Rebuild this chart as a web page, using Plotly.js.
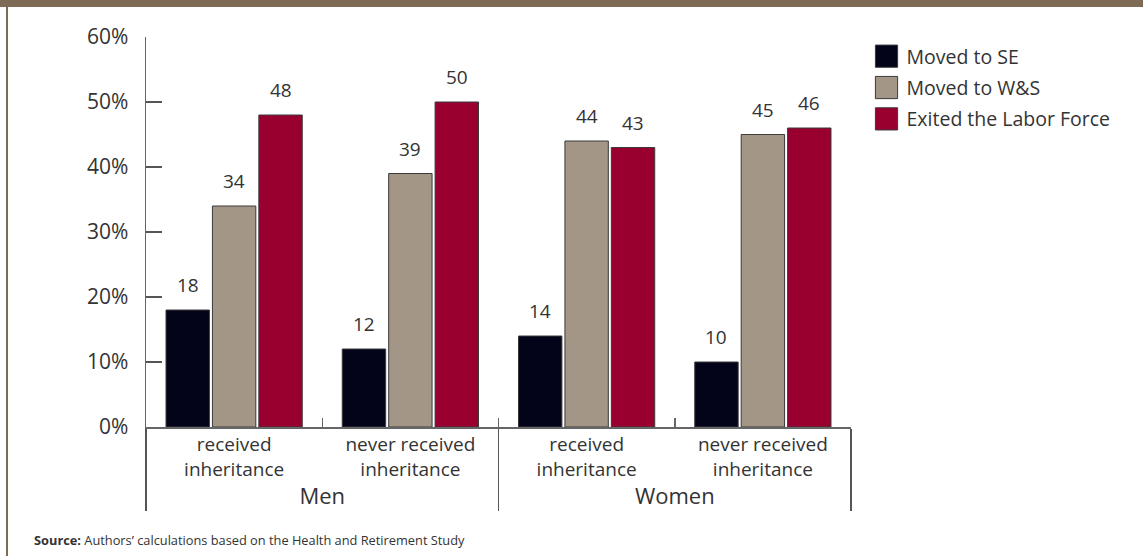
<!DOCTYPE html>
<html>
<head>
<meta charset="utf-8">
<script src="https://cdn.plot.ly/plotly-3.0.1.min.js"></script>
<style>
  html, body { margin: 0; padding: 0; background: #fff; }
  #wrap { position: relative; width: 1143px; height: 556px; overflow: hidden; }
  #chart { width: 1143px; height: 556px; }
  #topband { position: absolute; left: 0; top: 0; width: 1143px; height: 7px; background: #7e6b55; }
  #leftline { position: absolute; left: 6px; top: 0; width: 2px; height: 556px; background: #7e6b55; }
  .legend .legendpoints path {
    transform: translate(20px, 0px) scale(1.85);
    vector-effect: non-scaling-stroke;
  }
</style>
</head>
<body>
<div id="wrap">
  <div id="chart"></div>
  <div id="topband"></div>
  <div id="leftline"></div>
</div>
<script>
// ---- data ----
var groups = ["Men", "Men", "Women", "Women"];
var subgroups = ["received<br>inheritance", "never received<br>inheritance", "received<br>inheritance", "never received<br>inheritance"];
var seriesNames = ["Moved to SE", "Moved to W&S", "Exited the Labor Force"];
var movedSE = [18, 12, 14, 10];
var movedWS = [34, 39, 44, 45];
var exitedLF = [48, 50, 43, 46];
var yTickVals = [0, 10, 20, 30, 40, 50, 60];
var yTickText = ["0%", "10%", "20%", "30%", "40%", "50%", "60%"];
var sourceText = "<b>Source:</b> Authors’ calculations based on the Health and Retirement Study";

// ---- styles ----
var colors = ["#03041a", "#a39686", "#990030"];
var FONT = "'Open Sans', Lato, sans-serif";
var TXT = "#333333";
var BARGAP = 0.21;
var BARGROUPGAP = 0.065;

var groupLabels = groups.map(function (g) {
  return "<span style='font-size:22px'>" + g + "</span>";
});

var seriesValues = [movedSE, movedWS, exitedLF];
var traces = seriesValues.map(function (vals, j) {
  return {
    type: "bar",
    name: seriesNames[j],
    x: [groupLabels, subgroups],
    y: vals,
    legendgroup: "g" + j,
    marker: { color: colors[j], line: { color: "#3a3a3a", width: 1 } },
    hoverinfo: "y+name"
  };
});

// value labels as annotations positioned via the category axis
var slot = (1 - BARGAP) / seriesValues.length;
var annotations = [];
seriesValues.forEach(function (vals, j) {
  vals.forEach(function (v, i) {
    annotations.push({
      x: i + (j - (seriesValues.length - 1) / 2) * slot,
      y: v,
      xref: "x", yref: "y",
      text: String(v),
      showarrow: false,
      yanchor: "middle",
      yshift: 25,
      font: { family: FONT, size: 19, color: TXT }
    });
  });
});
annotations.push({
  xref: "paper", yref: "paper",
  x: -0.162, y: -0.29,
  xanchor: "left", yanchor: "middle",
  text: sourceText, showarrow: false,
  font: { family: FONT, size: 12.8, color: TXT }
});

var layout = {
  width: 1143, height: 556,
  margin: { l: 146, r: 292, t: 37, b: 129 },
  paper_bgcolor: "#ffffff",
  plot_bgcolor: "#ffffff",
  barmode: "group",
  bargap: BARGAP,
  bargroupgap: BARGROUPGAP,
  font: { family: FONT, color: TXT },
  xaxis: {
    type: "multicategory",
    showline: true, linecolor: "#666666", linewidth: 1.5,
    ticks: "inside", ticklen: 9, tickcolor: "#666666", tickwidth: 1.5,
    tickson: "boundaries",
    showdividers: true, dividercolor: "#555555", dividerwidth: 1.5,
    showgrid: false, zeroline: false,
    tickfont: { family: FONT, size: 19, color: TXT }
  },
  yaxis: {
    range: [0, 60],
    tickvals: yTickVals, ticktext: yTickText,
    showline: true, linecolor: "#666666", linewidth: 1.5,
    ticks: "inside", ticklen: 16, tickcolor: "#555555", tickwidth: 1.5,
    ticklabelstandoff: 12,
    showgrid: false, zeroline: false,
    tickfont: { family: FONT, size: 21, color: TXT }
  },
  legend: {
    x: 1.022, xanchor: "left", y: 1.0, yanchor: "top",
    font: { family: FONT, size: 19.5, color: TXT },
    tracegroupgap: 3,
    bgcolor: "rgba(0,0,0,0)"
  },
  annotations: annotations,
  showlegend: true
};

Plotly.newPlot("chart", traces, layout, { displayModeBar: false, staticPlot: true });
</script>
</body>
</html>
